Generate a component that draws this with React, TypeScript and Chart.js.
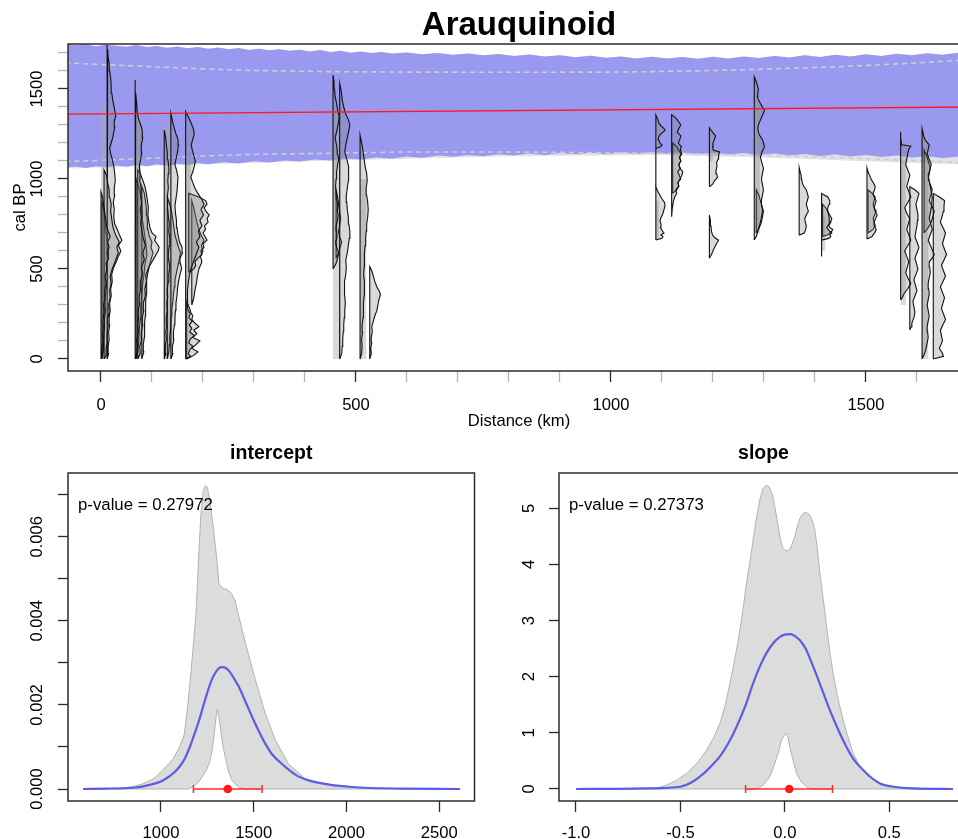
import { useEffect, useRef } from 'react';
import { Chart, registerables } from 'chart.js';

Chart.register(...registerables);

const FONT = '"Liberation Sans", Arial, Helvetica, sans-serif';

// ---------------- Top chart: Arauquinoid ----------------
const mainTitle = 'Arauquinoid';
const distanceTicks = [0, 100, 200, 300, 400, 500, 600, 700, 800, 900, 1000, 1100, 1200, 1300, 1400, 1500, 1600, 1700];
const distanceLabels = ['0', '', '', '', '', '500', '', '', '', '', '1000', '', '', '', '', '1500', '', ''];
const calBPTicks = [0, 100, 200, 300, 400, 500, 600, 700, 800, 900, 1000, 1100, 1200, 1300, 1400, 1500, 1600, 1700];
const calBPLabels = ['0', '', '', '', '', '500', '', '', '', '', '1000', '', '', '', '', '1500', '', ''];

// [km, cal BP]
const bandUpper = [[-70, 1752], [-50, 1743], [-30, 1749], [-10, 1738], [10, 1746], [30, 1740], [50, 1735], [70, 1744], [90, 1733], [110, 1739], [130, 1729], [150, 1736], [170, 1727], [190, 1733], [210, 1724], [230, 1730], [250, 1721], [270, 1728], [290, 1717], [310, 1724], [330, 1715], [350, 1721], [370, 1712], [390, 1718], [410, 1709], [430, 1716], [450, 1705], [470, 1712], [490, 1702], [510, 1709], [530, 1700], [550, 1706], [570, 1697], [600, 1703], [630, 1693], [660, 1700], [690, 1690], [720, 1697], [750, 1687], [780, 1694], [810, 1684], [840, 1691], [870, 1680], [900, 1688], [930, 1677], [960, 1685], [990, 1673], [1020, 1681], [1050, 1670], [1080, 1679], [1110, 1669], [1140, 1678], [1170, 1668], [1200, 1679], [1230, 1670], [1260, 1681], [1290, 1672], [1320, 1684], [1350, 1675], [1380, 1687], [1410, 1678], [1440, 1690], [1470, 1681], [1500, 1693], [1530, 1684], [1560, 1696], [1590, 1687], [1620, 1699], [1650, 1690], [1680, 1702], [1710, 1695]];
const bandLower = [[-70, 1062], [-50, 1070], [-30, 1061], [-10, 1071], [10, 1065], [30, 1075], [50, 1068], [70, 1079], [90, 1071], [110, 1082], [130, 1074], [150, 1085], [170, 1078], [190, 1089], [210, 1082], [240, 1093], [270, 1086], [300, 1098], [330, 1091], [360, 1103], [390, 1097], [420, 1109], [450, 1103], [480, 1114], [510, 1108], [540, 1120], [570, 1113], [600, 1125], [630, 1118], [660, 1130], [690, 1123], [720, 1134], [750, 1127], [780, 1138], [810, 1131], [840, 1141], [870, 1134], [900, 1144], [930, 1137], [960, 1146], [990, 1138], [1020, 1147], [1050, 1139], [1080, 1148], [1110, 1139], [1140, 1147], [1170, 1138], [1200, 1146], [1230, 1136], [1260, 1144], [1290, 1134], [1320, 1142], [1350, 1131], [1380, 1139], [1410, 1128], [1440, 1136], [1470, 1125], [1500, 1133], [1530, 1122], [1560, 1130], [1590, 1119], [1620, 1127], [1650, 1116], [1680, 1124], [1710, 1115]];
const greyBandLower = [[-70, 1058], [400, 1098], [800, 1126], [1100, 1133], [1300, 1120], [1500, 1098], [1710, 1078]];
const dashUpper = [[-70, 1645], [0, 1636], [100, 1624], [200, 1612], [300, 1603], [430, 1597], [600, 1594], [800, 1593], [1000, 1594], [1100, 1597], [1250, 1606], [1450, 1624], [1600, 1645], [1710, 1664]];
const dashLower = [[-70, 1096], [0, 1104], [100, 1116], [200, 1128], [300, 1137], [430, 1142], [600, 1150], [800, 1150], [1000, 1146], [1200, 1138], [1400, 1124], [1550, 1108], [1710, 1088]];
const regressionLine = [[-70, 1360.4], [1710, 1400.5]];

// light grey ranges: [kmFrom, kmTo, calBPFrom, calBPTo]
const greyRanges = [[0, 12, 0, 1400], [66, 78, 0, 1350], [124, 138, 0, 1300], [166, 176, 300, 1100], [455, 470, 0, 1400], [508, 520, 0, 1000], [1088, 1094, 1150, 1356], [1088, 1094, 661, 880], [1193, 1200, 1100, 1285], [1281, 1292, 700, 1450], [1413, 1420, 600, 800], [1568, 1578, 300, 1100], [1610, 1622, 0, 1250]];

// density profiles: [cal BP, width km]
const densA1 = [[0, 0], [20, 3], [60, 2], [100, 4], [140, 3], [180, 5], [220, 4], [260, 6], [300, 5], [340, 8], [380, 7], [420, 10], [460, 8], [500, 12], [530, 10], [560, 15], [590, 12], [620, 16], [650, 13], [680, 18], [710, 14], [740, 11], [780, 9], [820, 7], [860, 5], [900, 3], [929, 0]];
const densA2 = [[0, 0], [25, 5], [60, 4], [100, 7], [140, 6], [180, 8], [220, 7], [260, 10], [300, 9], [340, 12], [380, 11], [420, 14], [460, 12], [500, 16], [530, 20], [560, 24], [590, 28], [620, 25], [650, 30], [680, 24], [710, 20], [740, 17], [780, 15], [820, 13], [860, 14], [900, 11], [940, 10], [980, 7], [1020, 5], [1050, 0]];
const densA3 = [[0, 0], [30, 3], [70, 2], [110, 4], [150, 3], [190, 5], [230, 4], [270, 6], [310, 5], [350, 8], [390, 7], [430, 10], [470, 9], [510, 13], [540, 18], [570, 22], [600, 27], [630, 22], [660, 29], [690, 24], [720, 20], [750, 15], [790, 13], [830, 14], [870, 12], [910, 15], [950, 14], [990, 16], [1030, 15], [1070, 13], [1110, 10], [1140, 7], [1170, 5], [1200, 8], [1230, 11], [1260, 13], [1290, 15], [1320, 14], [1350, 17], [1380, 15], [1410, 13], [1440, 11], [1480, 9], [1520, 8], [1560, 7], [1600, 5], [1640, 4], [1680, 2], [1720, 1], [1744, 0]];
const densA4 = [[0, 0], [40, 2], [100, 3], [160, 4], [220, 5], [280, 7], [340, 6], [400, 9], [460, 11], [520, 9], [580, 13], [640, 11], [700, 8], [760, 6], [820, 4], [880, 0]];
const densB1 = [[0, 0], [30, 3], [70, 4], [110, 3], [150, 6], [190, 5], [230, 7], [270, 6], [310, 9], [350, 8], [390, 11], [430, 10], [470, 14], [510, 12], [550, 18], [590, 15], [630, 20], [670, 16], [710, 13], [750, 11], [790, 12], [830, 10], [870, 13], [910, 11], [950, 12], [990, 9], [1030, 10], [1070, 8], [1110, 11], [1150, 13], [1190, 12], [1230, 15], [1270, 14], [1300, 11], [1330, 7], [1370, 4], [1420, 3], [1480, 1], [1550, 0]];
const densB2 = [[0, 0], [30, 5], [70, 4], [110, 8], [150, 7], [190, 10], [230, 9], [270, 12], [310, 11], [350, 15], [390, 14], [430, 17], [470, 16], [510, 22], [540, 28], [570, 34], [600, 40], [620, 42], [640, 38], [660, 33], [680, 36], [700, 28], [730, 24], [760, 22], [800, 20], [840, 21], [880, 19], [920, 17], [960, 14], [1000, 9], [1030, 5], [1050, 0]];
const densB3 = [[0, 0], [40, 4], [80, 3], [120, 5], [160, 6], [200, 5], [240, 7], [280, 8], [320, 7], [360, 9], [400, 10], [440, 9], [480, 12], [520, 15], [560, 19], [590, 22], [620, 18], [650, 20], [680, 15], [720, 12], [760, 11], [800, 10], [840, 9], [880, 7], [920, 5], [960, 0]];
const densB4 = [[0, 0], [40, 3], [100, 5], [160, 6], [220, 8], [280, 9], [340, 11], [400, 12], [460, 15], [520, 17], [580, 21], [640, 19], [700, 16], [760, 13], [820, 12], [880, 10], [940, 7], [1000, 0]];
const densC1 = [[0, 0], [30, 3], [70, 2], [110, 4], [150, 3], [190, 5], [230, 4], [270, 6], [310, 5], [350, 7], [390, 6], [430, 8], [470, 9], [510, 11], [550, 9], [590, 8], [630, 10], [670, 11], [710, 9], [750, 10], [790, 8], [830, 7], [870, 6], [910, 7], [950, 8], [990, 7], [1030, 8], [1070, 9], [1110, 7], [1150, 6], [1190, 4], [1230, 3], [1272, 0]];
const densC2 = [[0, 0], [30, 4], [70, 3], [110, 6], [150, 5], [190, 7], [230, 8], [270, 9], [310, 10], [350, 12], [390, 13], [430, 15], [470, 18], [500, 21], [530, 19], [560, 18], [590, 23], [620, 22], [650, 17], [690, 14], [730, 12], [770, 11], [810, 9], [850, 8], [890, 10], [930, 12], [970, 13], [1010, 14], [1050, 11], [1080, 8], [1110, 10], [1150, 13], [1190, 15], [1220, 14], [1250, 10], [1280, 7], [1310, 4], [1340, 2], [1365, 0]];
const densC3 = [[0, 0], [40, 3], [80, 4], [120, 5], [160, 6], [200, 7], [240, 8], [280, 9], [320, 11], [360, 12], [400, 14], [440, 15], [480, 18], [520, 21], [560, 24], [590, 26], [620, 22], [650, 19], [690, 15], [730, 13], [770, 11], [810, 9], [850, 6], [900, 0]];
const densD1 = [[0, 0], [15, 10], [30, 5], [50, 8], [70, 14], [90, 6], [110, 9], [130, 17], [150, 8], [170, 12], [190, 7], [210, 13], [230, 6], [250, 9], [270, 5], [300, 3], [340, 4], [380, 3], [420, 5], [460, 7], [500, 10], [530, 14], [560, 18], [590, 22], [620, 26], [650, 21], [680, 28], [710, 25], [740, 32], [770, 28], [800, 35], [830, 30], [860, 36], [890, 31], [920, 24], [950, 18], [980, 14], [1010, 10], [1040, 14], [1070, 17], [1100, 19], [1130, 16], [1160, 13], [1190, 11], [1220, 14], [1250, 17], [1280, 15], [1310, 11], [1340, 6], [1374, 0]];
const densD2 = [[480, 0], [500, 10], [520, 14], [540, 12], [560, 18], [580, 26], [600, 24], [620, 30], [640, 28], [660, 36], [680, 32], [700, 28], [720, 33], [740, 31], [760, 38], [780, 36], [800, 40], [820, 34], [840, 30], [860, 36], [880, 33], [900, 20], [920, 0]];
const densD3 = [[300, 0], [340, 4], [380, 6], [420, 9], [460, 11], [500, 14], [540, 20], [570, 17], [600, 22], [630, 19], [660, 24], [690, 18], [720, 14], [760, 10], [800, 7], [840, 4], [880, 0]];
const densD4 = [[0, 0], [20, 14], [40, 22], [60, 10], [80, 18], [100, 26], [120, 12], [140, 20], [160, 14], [180, 24], [200, 16], [220, 10], [240, 12], [260, 8], [280, 6], [300, 3], [320, 0]];
const densE1 = [[500, 0], [530, 6], [560, 9], [590, 11], [620, 7], [650, 5], [680, 8], [710, 7], [740, 6], [770, 9], [800, 10], [830, 8], [860, 9], [890, 7], [920, 6], [960, 5], [1000, 6], [1040, 7], [1080, 9], [1110, 11], [1140, 9], [1170, 8], [1200, 6], [1230, 4], [1260, 7], [1290, 9], [1320, 11], [1350, 12], [1380, 9], [1420, 7], [1460, 4], [1500, 3], [1540, 2], [1578, 0]];
const densE2 = [[0, 0], [30, 4], [70, 5], [110, 6], [150, 7], [190, 8], [230, 9], [270, 10], [310, 11], [350, 10], [390, 9], [430, 10], [470, 12], [510, 13], [550, 12], [590, 15], [630, 17], [670, 19], [710, 20], [750, 18], [790, 17], [830, 15], [870, 14], [910, 13], [950, 15], [990, 17], [1030, 18], [1070, 17], [1110, 14], [1150, 10], [1190, 12], [1230, 15], [1270, 18], [1300, 20], [1330, 17], [1360, 12], [1400, 8], [1440, 5], [1490, 3], [1531, 0]];
const densE3 = [[560, 0], [590, 5], [620, 8], [650, 11], [680, 7], [710, 5], [740, 7], [780, 9], [820, 7], [860, 5], [900, 3], [940, 0]];
const densF1 = [[0, 0], [30, 3], [70, 4], [110, 3], [150, 5], [190, 4], [230, 6], [270, 7], [310, 6], [350, 8], [390, 9], [430, 8], [470, 7], [510, 8], [550, 9], [590, 8], [630, 10], [670, 11], [710, 12], [750, 13], [790, 15], [830, 16], [870, 15], [910, 13], [950, 12], [990, 14], [1030, 13], [1070, 10], [1110, 8], [1150, 6], [1190, 4], [1244, 0]];
const densF2 = [[0, 0], [30, 3], [60, 2], [90, 4], [120, 3], [150, 5], [180, 4], [210, 7], [240, 10], [270, 14], [300, 16], [330, 18], [360, 21], [380, 18], [400, 14], [430, 10], [460, 7], [490, 4], [513, 0]];
const densG1 = [[1170, 0], [1180, 10], [1190, 12], [1200, 8], [1215, 6], [1230, 5], [1245, 8], [1260, 14], [1270, 18], [1280, 16], [1295, 10], [1310, 6], [1330, 4], [1356, 0]];
const densG2 = [[661, 0], [670, 12], [680, 14], [690, 10], [700, 16], [715, 12], [730, 9], [750, 10], [770, 8], [790, 11], [810, 14], [830, 16], [850, 18], [870, 17], [890, 12], [910, 8], [930, 4], [957, 0]];
const densG3 = [[957, 0], [1170, 0]];
const densH1 = [[790, 0], [830, 1], [870, 3], [900, 6], [920, 10], [940, 8], [960, 14], [980, 12], [1000, 18], [1020, 15], [1040, 12], [1060, 17], [1080, 14], [1100, 18], [1120, 15], [1140, 20], [1160, 17], [1180, 19], [1200, 13], [1220, 16], [1240, 18], [1260, 11], [1280, 14], [1300, 18], [1320, 13], [1340, 8], [1356, 0]];
const densH2 = [[920, 0], [940, 8], [960, 12], [980, 10], [1000, 14], [1020, 18], [1040, 20], [1060, 14], [1080, 12], [1100, 16], [1120, 14], [1140, 16], [1160, 12], [1180, 8], [1200, 0]];
const densI1 = [[957, 0], [970, 6], [990, 10], [1010, 16], [1030, 14], [1050, 13], [1070, 15], [1090, 14], [1110, 17], [1130, 18], [1150, 20], [1160, 8], [1180, 6], [1200, 7], [1220, 10], [1240, 12], [1260, 6], [1285, 0]];
const densI2 = [[560, 0], [580, 4], [600, 7], [620, 10], [640, 14], [660, 18], [675, 10], [690, 6], [710, 4], [740, 3], [770, 2], [800, 0]];
const densJ1 = [[661, 0], [680, 4], [700, 6], [730, 9], [760, 12], [790, 14], [820, 16], [850, 15], [880, 14], [910, 16], [940, 18], [970, 16], [1000, 14], [1030, 16], [1060, 18], [1090, 15], [1120, 12], [1150, 15], [1180, 20], [1200, 18], [1220, 16], [1240, 11], [1260, 8], [1280, 7], [1300, 8], [1320, 11], [1340, 14], [1360, 17], [1380, 20], [1400, 16], [1420, 12], [1440, 8], [1460, 6], [1480, 7], [1500, 8], [1520, 6], [1540, 4], [1568, 0]];
const densJ2 = [[700, 0], [730, 6], [760, 10], [790, 12], [820, 14], [850, 11], [880, 8], [910, 5], [940, 0]];
const densK1 = [[688, 0], [700, 10], [720, 13], [740, 14], [760, 12], [780, 11], [800, 14], [820, 18], [840, 16], [860, 14], [880, 16], [900, 18], [920, 16], [940, 14], [960, 9], [980, 6], [1000, 5], [1020, 4], [1040, 2], [1065, 0]];
const densL1 = [[569, 0], [660, 0], [670, 14], [680, 18], [690, 16], [700, 20], [715, 14], [730, 10], [745, 13], [760, 16], [780, 15], [800, 14], [820, 12], [840, 12], [860, 15], [880, 16], [900, 12], [910, 6], [920, 0]];
const densL2 = [[680, 0], [690, 10], [700, 14], [710, 18], [720, 20], [730, 14], [740, 12], [760, 16], [780, 18], [800, 14], [820, 10], [840, 6], [860, 0]];
const densM1 = [[667, 0], [680, 10], [690, 12], [705, 16], [720, 18], [740, 15], [760, 14], [780, 17], [800, 20], [820, 16], [840, 14], [860, 16], [880, 18], [900, 14], [920, 12], [940, 15], [960, 16], [980, 12], [1000, 8], [1020, 5], [1040, 2], [1061, 0]];
const densM2 = [[700, 0], [720, 10], [740, 14], [760, 12], [780, 10], [800, 13], [820, 16], [840, 12], [860, 10], [880, 12], [900, 14], [920, 8], [940, 0]];
const densN1 = [[328, 0], [345, 4], [360, 6], [390, 14], [420, 20], [450, 14], [480, 10], [510, 13], [540, 16], [570, 12], [600, 8], [630, 14], [660, 20], [690, 16], [720, 12], [750, 15], [780, 18], [810, 12], [840, 8], [870, 14], [900, 20], [930, 16], [960, 12], [990, 15], [1020, 18], [1050, 14], [1080, 10], [1110, 12], [1140, 14], [1165, 16], [1183, 20], [1190, 2], [1230, 0], [1263, 0]];
const densN2 = [[161, 0], [180, 3], [200, 4], [230, 8], [260, 10], [290, 8], [320, 6], [350, 10], [380, 14], [410, 11], [440, 8], [470, 12], [500, 16], [530, 13], [560, 10], [590, 14], [620, 18], [650, 14], [680, 10], [710, 12], [740, 14], [770, 15], [800, 16], [830, 14], [860, 12], [890, 15], [920, 18], [940, 10], [957, 0]];
const densO1 = [[0, 0], [30, 5], [60, 8], [90, 10], [120, 12], [150, 11], [180, 10], [210, 12], [240, 14], [270, 12], [300, 10], [330, 12], [360, 14], [390, 13], [420, 12], [450, 14], [480, 16], [510, 15], [540, 14], [560, 20], [580, 24], [600, 21], [620, 18], [640, 15], [660, 12], [690, 16], [720, 20], [750, 17], [780, 14], [810, 16], [840, 18], [870, 19], [900, 20], [930, 18], [960, 16], [990, 14], [1020, 12], [1050, 15], [1080, 18], [1110, 14], [1140, 10], [1165, 12], [1190, 14], [1210, 8], [1230, 4], [1255, 2], [1281, 0]];
const densO2 = [[0, 0], [15, 20], [30, 18], [60, 12], [80, 15], [100, 18], [130, 16], [160, 14], [190, 19], [220, 24], [250, 20], [280, 16], [310, 19], [340, 22], [370, 18], [400, 14], [430, 19], [460, 24], [490, 20], [520, 16], [550, 21], [580, 26], [610, 22], [640, 18], [670, 21], [700, 24], [730, 19], [760, 14], [790, 17], [820, 20], [850, 21], [880, 22], [900, 12], [920, 0]];
const densO3 = [[700, 0], [730, 8], [760, 14], [790, 17], [820, 20], [850, 15], [880, 10], [910, 13], [940, 16], [970, 12], [1000, 8], [1030, 10], [1060, 12], [1090, 9], [1120, 6], [1140, 3], [1160, 0]];

// [baseline km, profile]
const densityColumns: [number, number[][]][] = [
  [0, densA1], [6, densA2], [12, densA3], [2, densA4],
  [67, densB1], [72, densB2], [80, densB3], [69, densB4],
  [124, densC1], [137, densC2], [130, densC3],
  [166, densD1], [172, densD2], [178, densD3], [168, densD4],
  [455, densE1], [468, densE2], [461, densE3],
  [508, densF1], [527, densF2],
  [1088, densG1], [1088, densG2], [1088, densG3],
  [1119, densH1], [1121, densH2],
  [1193, densI1], [1193, densI2],
  [1281, densJ1], [1285, densJ2],
  [1369, densK1],
  [1413, densL1], [1415, densL2],
  [1502, densM1], [1504, densM2],
  [1568, densN1], [1586, densN2],
  [1610, densO1], [1632, densO2], [1614, densO3],
];

// ---------------- Bottom-left: intercept ----------------
const interceptTitle = 'intercept';
const interceptPValue = 'p-value = 0.27972';
const interceptXTicks = [1000, 1500, 2000, 2500];
const interceptXLabels = ['1000', '1500', '2000', '2500'];
const interceptYTicks = [0, 0.001, 0.002, 0.003, 0.004, 0.005, 0.006, 0.007];
const interceptYLabels = ['0.000', '', '0.002', '', '0.004', '', '0.006', ''];
const interceptUpper = [[580, 0], [700, 0.000005], [800, 0.00003], [850, 0.00006], [900, 0.00012], [950, 0.00022], [975, 0.0003], [1020, 0.0005], [1064, 0.0007], [1100, 0.001], [1126, 0.0013], [1145, 0.002], [1162, 0.0028], [1178, 0.0036], [1189, 0.0042], [1203, 0.0055], [1215, 0.0065], [1228, 0.0071], [1240, 0.00722], [1250, 0.00718], [1262, 0.0069], [1283, 0.0062], [1300, 0.0055], [1313, 0.00488], [1330, 0.00478], [1345, 0.00476], [1360, 0.00474], [1380, 0.00465], [1400, 0.00448], [1420, 0.0041], [1456, 0.00346], [1509, 0.0026], [1562, 0.0018], [1616, 0.00117], [1687, 0.0006], [1776, 0.00025], [1850, 0.00014], [1918, 0.0001], [2000, 0.00005], [2096, 0.00002], [2300, 0.000005], [2612, 0]];
const interceptLower = [[580, 0], [1150, 0], [1171, 0.00005], [1200, 0.00015], [1224, 0.0003], [1245, 0.00045], [1260, 0.0006], [1275, 0.0009], [1287, 0.0013], [1297, 0.0017], [1304, 0.0019], [1312, 0.0017], [1322, 0.0014], [1335, 0.001], [1349, 0.0007], [1365, 0.0004], [1384, 0.0002], [1405, 0.0001], [1420, 0.00005], [1450, 0], [2612, 0]];
const interceptMean = [[580, 0], [700, 0.00001], [850, 0.00003], [940, 0.0001], [1000, 0.00018], [1028, 0.00025], [1065, 0.00037], [1100, 0.00053], [1128, 0.00072], [1153, 0.00097], [1180, 0.0013], [1206, 0.00164], [1233, 0.00205], [1260, 0.00243], [1280, 0.00266], [1300, 0.00281], [1315, 0.00288], [1330, 0.0029], [1345, 0.00289], [1367, 0.00281], [1395, 0.00262], [1420, 0.00243], [1455, 0.00208], [1491, 0.00172], [1527, 0.00138], [1562, 0.00108], [1600, 0.00082], [1651, 0.0006], [1700, 0.00042], [1740, 0.0003], [1800, 0.0002], [1918, 0.0001], [2000, 0.00006], [2096, 0.00003], [2300, 0.00001], [2612, 0]];
const interceptCI = [1175, 1545];
const interceptEstimate = 1360;

// ---------------- Bottom-right: slope ----------------
const slopeTitle = 'slope';
const slopePValue = 'p-value = 0.27373';
const slopeXTicks = [-1, -0.5, 0, 0.5];
const slopeXLabels = ['-1.0', '-0.5', '0.0', '0.5'];
const slopeYTicks = [0, 1, 2, 3, 4, 5];
const slopeYLabels = ['0', '1', '2', '3', '4', '5'];
const slopeUpper = [[-1.0, 0], [-0.8, 0.002], [-0.66, 0.01], [-0.6, 0.03], [-0.567, 0.07], [-0.52, 0.15], [-0.47, 0.28], [-0.42, 0.46], [-0.375, 0.69], [-0.34, 0.92], [-0.311, 1.17], [-0.285, 1.5], [-0.263, 1.88], [-0.243, 2.25], [-0.223, 2.65], [-0.2, 3.2], [-0.184, 3.66], [-0.165, 4.1], [-0.152, 4.44], [-0.135, 4.85], [-0.12, 5.15], [-0.105, 5.35], [-0.09, 5.41], [-0.075, 5.38], [-0.06, 5.25], [-0.048, 5.03], [-0.035, 4.75], [-0.024, 4.5], [-0.01, 4.3], [0.0, 4.26], [0.012, 4.24], [0.024, 4.27], [0.036, 4.38], [0.048, 4.5], [0.06, 4.68], [0.072, 4.82], [0.085, 4.9], [0.096, 4.93], [0.11, 4.91], [0.12, 4.88], [0.13, 4.8], [0.144, 4.61], [0.155, 4.3], [0.168, 3.84], [0.185, 3.35], [0.2, 2.89], [0.215, 2.45], [0.231, 2.06], [0.255, 1.6], [0.279, 1.23], [0.3, 0.95], [0.327, 0.64], [0.36, 0.4], [0.391, 0.25], [0.44, 0.12], [0.487, 0.07], [0.55, 0.03], [0.615, 0.01], [0.7, 0.003], [0.805, 0]];
const slopeLower = [[-1.0, 0], [-0.14, 0], [-0.12, 0.03], [-0.1, 0.08], [-0.085, 0.15], [-0.072, 0.22], [-0.055, 0.38], [-0.04, 0.55], [-0.032, 0.64], [-0.016, 0.87], [0.0, 0.97], [0.008, 0.99], [0.016, 0.9], [0.024, 0.75], [0.04, 0.5], [0.056, 0.28], [0.08, 0.12], [0.104, 0.04], [0.12, 0.01], [0.136, 0], [0.805, 0]];
const slopeMean = [[-1.0, 0], [-0.8, 0.003], [-0.66, 0.01], [-0.5, 0.04], [-0.45, 0.11], [-0.407, 0.22], [-0.36, 0.38], [-0.311, 0.58], [-0.27, 0.82], [-0.231, 1.11], [-0.19, 1.47], [-0.152, 1.88], [-0.12, 2.18], [-0.088, 2.42], [-0.055, 2.6], [-0.024, 2.71], [0.0, 2.75], [0.027, 2.76], [0.05, 2.72], [0.072, 2.65], [0.1, 2.5], [0.136, 2.18], [0.175, 1.8], [0.215, 1.41], [0.255, 1.06], [0.295, 0.75], [0.335, 0.5], [0.375, 0.34], [0.415, 0.2], [0.455, 0.1], [0.52, 0.04], [0.615, 0.01], [0.805, 0]];
const slopeCI = [-0.188, 0.228];
const slopeEstimate = 0.021;

// ---------------- helpers ----------------
const toXY = (arr: number[][]) => arr.map(([x, y]) => ({ x, y }));
const closedBand = (upper: number[][], lower: number[][]) => [...toXY(upper), ...toXY([...lower].reverse())];
const profilePolygon = (base: number, prof: number[][]) => {
  const pts = [{ x: base, y: prof[0][0] }];
  prof.forEach(([yr, w]) => pts.push({ x: base + w, y: yr }));
  pts.push({ x: base, y: prof[prof.length - 1][0] });
  pts.push({ x: base, y: prof[0][0] });
  return pts;
};
const rangeRect = ([x0, x1, y0, y1]: number[]) => [{ x: x0, y: y0 }, { x: x1, y: y0 }, { x: x1, y: y1 }, { x: x0, y: y1 }, { x: x0, y: y0 }];

const lineDs = (data: any[], extra: any) => ({
  type: 'scatter',
  data,
  showLine: true,
  pointRadius: 0,
  pointHoverRadius: 0,
  tension: 0,
  ...extra,
});

const boxPlugin = {
  id: 'boxFrame',
  afterDatasetsDraw(chart: any) {
    const { ctx, chartArea: a } = chart;
    ctx.save();
    ctx.strokeStyle = '#2b2b2b';
    ctx.lineWidth = 1.5;
    ctx.strokeRect(a.left, a.top, a.right - a.left, a.bottom - a.top);
    ctx.restore();
  },
};

const noteText = {
  id: 'noteText',
  afterDraw(chart: any, _args: any, opts: any) {
    if (!opts || !opts.text) return;
    const { ctx, chartArea: a } = chart;
    ctx.save();
    ctx.font = `16.8px ${FONT}`;
    ctx.fillStyle = '#000';
    ctx.textBaseline = 'alphabetic';
    ctx.textAlign = 'left';
    ctx.fillText(opts.text, a.left + opts.dx, a.top + opts.dy);
    ctx.restore();
  },
};

const tickFont = { family: FONT, size: 16.6 };

function axisX(min: number, max: number, ticks: number[], labels: string[], height: number, padding: number, tickColor: any, title?: any) {
  return {
    type: 'linear',
    position: 'bottom',
    min,
    max,
    afterBuildTicks: (s: any) => { s.ticks = ticks.map((v) => ({ value: v })); },
    afterFit: (s: any) => { s.height = height; },
    ticks: { autoSkip: false, maxRotation: 0, minRotation: 0, padding, font: tickFont, color: '#000', callback: (_v: any, i: number) => labels[i] },
    grid: { drawOnChartArea: false, drawTicks: true, tickLength: 11, tickWidth: 1.3, tickColor },
    border: { display: false },
    title: title || { display: false },
  };
}

function axisY(min: number, max: number, ticks: number[], labels: string[], width: number, padding: number, tickColor: any, title?: any) {
  return {
    type: 'linear',
    position: 'left',
    min,
    max,
    afterBuildTicks: (s: any) => { s.ticks = ticks.map((v) => ({ value: v })); },
    afterFit: (s: any) => { s.width = width; },
    ticks: { autoSkip: false, minRotation: 90, maxRotation: 90, crossAlign: 'center', padding, font: tickFont, color: '#000', callback: (_v: any, i: number) => labels[i] },
    grid: { drawOnChartArea: false, drawTicks: true, tickLength: 10, tickWidth: 1.3, tickColor },
    border: { display: false },
    title: title || { display: false },
  };
}

const majorMinorColor = (c: any) => (c.tick && c.tick.value % 500 === 0 ? '#2b2b2b' : '#b5b5b5');

function topConfig(): any {
  const datasets: any[] = [];
  datasets.push(lineDs(closedBand(bandUpper, greyBandLower), { borderWidth: 0, borderColor: 'rgba(0,0,0,0)', backgroundColor: 'rgb(226,226,230)', fill: 'shape', order: 12 }));
  datasets.push(lineDs(closedBand(bandUpper, bandLower), { borderWidth: 0, borderColor: 'rgba(0,0,0,0)', backgroundColor: 'rgb(153,153,239)', fill: 'shape', order: 11 }));
  datasets.push(lineDs(toXY(dashUpper), { borderColor: 'rgb(205,205,210)', borderWidth: 1.6, borderDash: [5, 4], fill: false, order: 10 }));
  datasets.push(lineDs(toXY(dashLower), { borderColor: 'rgb(205,205,210)', borderWidth: 1.6, borderDash: [5, 4], fill: false, order: 10 }));
  greyRanges.forEach((r) => datasets.push(lineDs(rangeRect(r), { borderWidth: 0, borderColor: 'rgba(0,0,0,0)', backgroundColor: 'rgba(170,170,170,0.45)', fill: 'shape', order: 8 })));
  densityColumns.forEach(([base, prof]) => datasets.push(lineDs(profilePolygon(base, prof), { borderColor: '#111', borderWidth: 1.1, backgroundColor: 'rgba(120,120,120,0.28)', fill: 'shape', order: 5 })));
  datasets.push(lineDs(toXY(regressionLine), { borderColor: '#ff1a1a', borderWidth: 1.4, fill: false, order: 1 }));
  return {
    type: 'scatter',
    data: { datasets },
    options: {
      animation: false,
      responsive: false,
      layout: { padding: { left: 0, right: 30, top: 0, bottom: 0 } },
      plugins: {
        legend: { display: false },
        tooltip: { enabled: false },
        title: { display: true, text: mainTitle, fullSize: false, color: '#000', font: { family: FONT, size: 33, weight: 'bold', lineHeight: 1.1 }, padding: { top: 7.35, bottom: 0.35 } },
      },
      scales: {
        x: axisX(-64.7, 1704, distanceTicks, distanceLabels, 69, 13, majorMinorColor, { display: true, text: 'Distance (km)', color: '#000', font: tickFont, padding: { top: 0, bottom: 8.7 } }),
        y: axisY(-66.7, 1750, calBPTicks, calBPLabels, 68, 1.9, majorMinorColor, { display: true, text: 'cal BP', color: '#000', font: tickFont, padding: { top: 10.2, bottom: 0 } }),
      },
    },
    plugins: [boxPlugin],
  };
}

function posteriorConfig(p: any): any {
  const datasets: any[] = [
    lineDs(closedBand(p.upper, p.lower), { borderColor: 'rgb(178,178,178)', borderWidth: 1, backgroundColor: 'rgb(220,220,220)', fill: 'shape', order: 10 }),
    lineDs(toXY(p.mean), { borderColor: 'rgb(92,92,228)', borderWidth: 2.2, fill: false, cubicInterpolationMode: 'monotone', order: 5 }),
    {
      type: 'scatter',
      data: [{ x: p.ci[0], y: 0 }, { x: p.ci[1], y: 0 }],
      showLine: true,
      borderColor: '#ff2a2a',
      borderWidth: 1.5,
      pointStyle: 'line',
      pointRotation: 90,
      pointRadius: 4,
      pointBorderColor: '#ff2a2a',
      pointBorderWidth: 1.5,
      fill: false,
      order: 2,
    },
    { type: 'scatter', data: [{ x: p.est, y: 0 }], pointRadius: 4.3, pointBackgroundColor: '#ff1a1a', pointBorderColor: '#ff1a1a', borderWidth: 0, order: 1 },
  ];
  return {
    type: 'scatter',
    data: { datasets },
    options: {
      animation: false,
      responsive: false,
      layout: { padding: { left: 0, right: p.padRight, top: 0, bottom: 0 } },
      plugins: {
        legend: { display: false },
        tooltip: { enabled: false },
        title: { display: true, text: p.title, fullSize: false, color: '#000', font: { family: FONT, size: 19.5, weight: 'bold', lineHeight: 1.2 }, padding: { top: 2.2, bottom: 7.4 } },
        noteText: { text: p.pvalue, dx: 10, dy: 37 },
      },
      scales: {
        x: axisX(p.xmin, p.xmax, p.xticks, p.xlabels, 38, 11.6, '#2b2b2b'),
        y: axisY(p.ymin, p.ymax, p.yticks, p.ylabels, p.yWidth, p.yPad, '#2b2b2b'),
      },
    },
    plugins: [boxPlugin, noteText],
  };
}

function ChartCanvas({ make, left, top, width, height }: any) {
  const ref = useRef<HTMLCanvasElement>(null);
  useEffect(() => {
    const chart = new Chart(ref.current as HTMLCanvasElement, make());
    return () => chart.destroy();
  }, []);
  return (
    <canvas
      ref={ref}
      width={width}
      height={height}
      style={{ position: 'absolute', left, top, width, height, display: 'block' }}
    />
  );
}

export default function App() {
  return (
    <div style={{ position: 'absolute', left: 0, top: 0, width: 958, height: 839, overflow: 'hidden', background: '#fff' }}>
      <ChartCanvas make={topConfig} left={0} top={0} width={1000} height={440} />
      <ChartCanvas
        make={() => posteriorConfig({
          upper: interceptUpper, lower: interceptLower, mean: interceptMean, ci: interceptCI, est: interceptEstimate,
          title: interceptTitle, pvalue: interceptPValue,
          xmin: 499, xmax: 2690, xticks: interceptXTicks, xlabels: interceptXLabels,
          ymin: -0.000285, ymax: 0.007515, yticks: interceptYTicks, ylabels: interceptYLabels,
          yWidth: 68, yPad: 0, padRight: 3,
        })}
        left={0} top={440} width={480} height={399}
      />
      <ChartCanvas
        make={() => posteriorConfig({
          upper: slopeUpper, lower: slopeLower, mean: slopeMean, ci: slopeCI, est: slopeEstimate,
          title: slopeTitle, pvalue: slopePValue,
          xmin: -1.0814, xmax: 0.877, xticks: slopeXTicks, xlabels: slopeXLabels,
          ymin: -0.214, ymax: 5.63, yticks: slopeYTicks, ylabels: slopeYLabels,
          yWidth: 79, yPad: 14.7, padRight: 32,
        })}
        left={480} top={440} width={520} height={399}
      />
    </div>
  );
}
